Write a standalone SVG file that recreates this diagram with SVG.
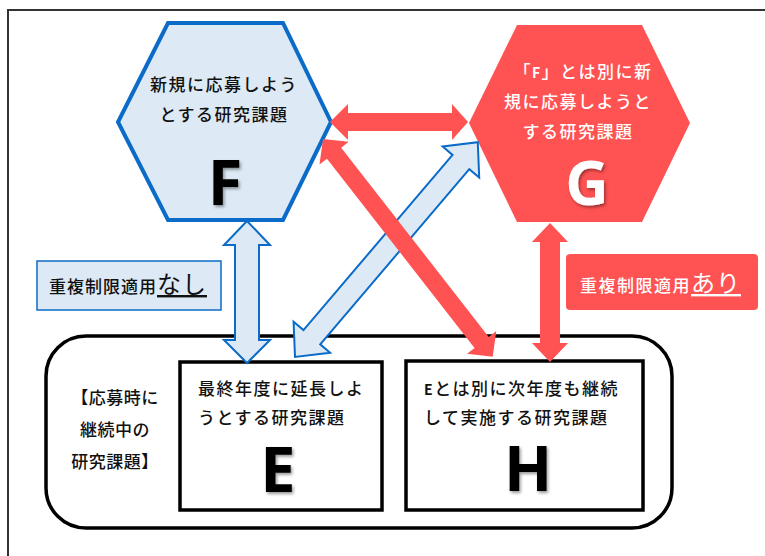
<svg xmlns="http://www.w3.org/2000/svg" width="765" height="556" viewBox="0 0 765 556">
<defs>
<style>
.jp{font-family:"Noto Sans CJK JP","Noto Sans",sans-serif;font-size:17px;font-weight:500;letter-spacing:1.5px;fill:#111;}
.wt{fill:#fff;}
.big{font-family:"Open Sans","Liberation Sans",sans-serif;font-weight:700;font-size:63px;text-anchor:middle;}
.blueshape{fill:#DDEAF6;stroke:#0B6BC8;}
.red{fill:#FF5252;}
.box{fill:#fff;stroke:#000;stroke-width:3.5;}
</style>
<filter id="sh" x="-20%" y="-20%" width="150%" height="150%">
<feDropShadow dx="1.5" dy="2" stdDeviation="1.5" flood-color="#000" flood-opacity="0.4"/>
</filter>
</defs>
<rect width="765" height="556" fill="#fff"/>
<rect x="8" y="10" width="800" height="600" fill="none" stroke="#333" stroke-width="2"/>

<g id="container">
<rect x="46" y="336" width="626" height="192" rx="40" ry="40" fill="none" stroke="#000" stroke-width="3.5"/>
<text class="jp" text-anchor="middle" style="letter-spacing:0.5px"><tspan x="115" y="404">【応募時に</tspan><tspan x="115" y="436">継続中の</tspan><tspan x="115" y="468">研究課題】</tspan></text>
</g>

<g id="node-F">
<polygon class="blueshape" stroke-width="4" points="168,23 283,23 331,122 283,220 168,220 118,122"/>
<text class="jp" text-anchor="middle"><tspan x="224" y="91">新規に応募しよう</tspan><tspan x="224" y="121">とする研究課題</tspan></text>
<text class="big" x="225" y="205" fill="#000" filter="url(#sh)">F</text>
</g>

<g id="node-G">
<polygon class="red" points="517,25 642,25 690,123 642,222 517,222 469,123"/>
<text class="jp wt" text-anchor="middle"><tspan x="583" y="78">「<tspan style="font-weight:700;font-size:14px">F</tspan>」とは別に新</tspan><tspan x="578" y="108">規に応募しようと</tspan><tspan x="578" y="138">する研究課題</tspan></text>
<text class="big" x="587" y="205" fill="#fff" filter="url(#sh)" style="font-size:60px">G</text>
</g>

<g id="node-E">
<rect class="box" x="180" y="362" width="202" height="148"/>
<text class="jp"><tspan x="198" y="395">最終年度に延長しよ</tspan><tspan x="198" y="424">うとする研究課題</tspan></text>
<text class="big" x="278" y="492" fill="#000" filter="url(#sh)">E</text>
</g>

<g id="node-H">
<rect class="box" x="406" y="361" width="237" height="149"/>
<text class="jp"><tspan x="424" y="395"><tspan style="font-weight:700;font-size:14px">E</tspan>とは別に次年度も継続</tspan><tspan x="424" y="424">して実施する研究課題</tspan></text>
<text class="big" x="528" y="491" fill="#000" filter="url(#sh)">H</text>
</g>

<g id="label-nashi">
<rect x="37" y="261" width="184" height="49" fill="#DDEAF6" stroke="#0B6BC8" stroke-width="1.5"/>
<text class="jp" x="49" y="293" style="letter-spacing:1px">重複制限適用<tspan style="font-size:24px;font-weight:400;text-decoration:underline;letter-spacing:1px">なし</tspan></text>
</g>

<g id="label-ari">
<rect x="566" y="254" width="192" height="56" rx="4" ry="4" fill="#FF5252"/>
<text class="jp wt" x="580" y="292" style="letter-spacing:1.5px">重複制限適用<tspan style="font-size:24px;font-weight:400;text-decoration:underline;letter-spacing:1px">あり</tspan></text>
</g>

<g id="connectors">
<polygon class="blueshape" stroke-width="2" points="247,221 270,245 259,245 259,340 270,340 247,363 224,340 235,340 235,245 224,245"/>
<polygon class="red" points="550,223 568,242 560,242 560,343 568,343 550,362 532,343 540,343 540,242 532,242"/>
<g transform="translate(295,357) rotate(-49.6)">
<polygon class="blueshape" stroke-width="2" points="0,0 26,-24 26,-11 256,-11 256,-24 282,0 256,24 256,11 26,11 26,24"/>
</g>
<polygon class="red" points="330,122 348,104 348,113 452,113 452,104 468,122 452,140 452,131 348,131 348,140"/>
<g transform="translate(323,139) rotate(52.05)">
<polygon class="red" points="0,0 18,-18.5 18,-9 258,-9 258,-18.5 276,0 258,18.5 258,9 18,9 18,18.5"/>
</g>
</g>
</svg>
